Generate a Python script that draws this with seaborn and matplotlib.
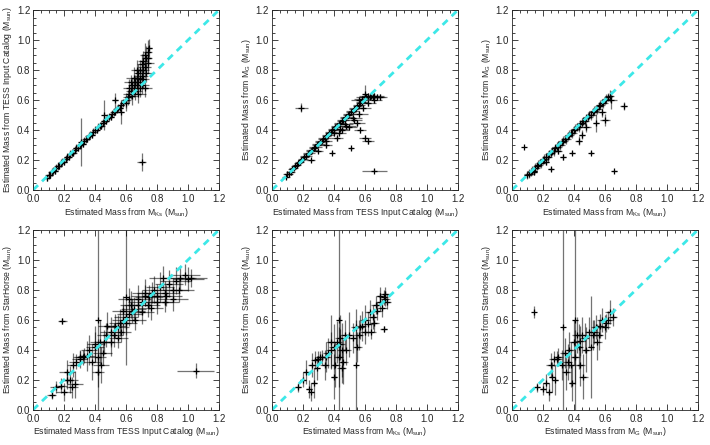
import matplotlib
matplotlib.use("Agg")
import matplotlib.pyplot as plt
import seaborn as sns
from matplotlib.ticker import MultipleLocator

sns.set_theme(style="ticks")
plt.rcParams["font.family"] = ["Liberation Sans", "DejaVu Sans"]
plt.rcParams["mathtext.fontset"] = "custom"
plt.rcParams["mathtext.rm"] = "Liberation Sans"
plt.rcParams["mathtext.it"] = "Liberation Sans"

# --- Données ---

# Panel 1 : M_Ks (x) vs TIC (y)
p1_x = [0.09, 0.10, 0.11, 0.12, 0.13, 0.14, 0.15, 0.16, 0.17, 0.18, 0.19, 0.20, 0.21, 0.22,
        0.23, 0.24, 0.25, 0.26, 0.27, 0.28, 0.29, 0.30, 0.31, 0.32, 0.33, 0.34, 0.35, 0.36,
        0.37, 0.38, 0.39, 0.40, 0.41, 0.42, 0.43, 0.44, 0.45, 0.46, 0.47, 0.48, 0.49, 0.50,
        0.51, 0.52, 0.53, 0.54, 0.55, 0.56, 0.57, 0.58,
        0.60, 0.61, 0.62, 0.63, 0.64, 0.64, 0.65, 0.66, 0.66, 0.67, 0.67, 0.68, 0.68, 0.69,
        0.69, 0.70, 0.70, 0.71, 0.71, 0.72, 0.72, 0.73, 0.73, 0.74, 0.74, 0.75, 0.65, 0.70,
        0.62, 0.57, 0.53, 0.46, 0.31, 0.70, 0.60, 0.72, 0.68, 0.63, 0.67, 0.71, 0.74, 0.69]
p1_y = [0.08, 0.10, 0.10, 0.12, 0.13, 0.13, 0.15, 0.16, 0.16, 0.18, 0.19, 0.19, 0.21, 0.22,
        0.22, 0.24, 0.25, 0.25, 0.27, 0.28, 0.28, 0.30, 0.31, 0.31, 0.33, 0.34, 0.34, 0.36,
        0.37, 0.37, 0.39, 0.40, 0.40, 0.42, 0.43, 0.43, 0.45, 0.46, 0.46, 0.48, 0.49, 0.49,
        0.51, 0.52, 0.52, 0.54, 0.55, 0.55, 0.57, 0.58,
        0.60, 0.62, 0.64, 0.66, 0.63, 0.70, 0.68, 0.72, 0.66, 0.75, 0.70, 0.78, 0.72, 0.80,
        0.74, 0.84, 0.76, 0.86, 0.80, 0.90, 0.82, 0.88, 0.78, 0.92, 0.85, 0.95, 0.75, 0.70,
        0.68, 0.52, 0.60, 0.50, 0.32, 0.19, 0.58, 0.68, 0.64, 0.72, 0.80, 0.74, 0.88, 0.68]
p1_xerr = [0.018, 0.022, 0.018, 0.022, 0.018, 0.022, 0.018, 0.022, 0.018, 0.022,
           0.018, 0.022, 0.018, 0.022, 0.018, 0.022, 0.018, 0.022, 0.018, 0.022, 0.018, 0.022,
           0.018, 0.022, 0.018, 0.022, 0.018, 0.022, 0.018, 0.022, 0.018, 0.022, 0.018, 0.022,
           0.018, 0.022, 0.018, 0.022, 0.018, 0.022, 0.018, 0.022, 0.018, 0.022, 0.018, 0.022,
           0.018, 0.022, 0.018, 0.022,
           0.03, 0.03, 0.04, 0.03, 0.04, 0.03, 0.04, 0.03, 0.04, 0.03, 0.04, 0.03, 0.04, 0.03,
           0.04, 0.03, 0.04, 0.03, 0.04, 0.03, 0.04, 0.03, 0.04, 0.03, 0.04, 0.02, 0.05, 0.05,
           0.04, 0.02, 0.02, 0.01, 0.01, 0.03, 0.02, 0.05, 0.05, 0.04, 0.04, 0.04, 0.03, 0.05]
p1_yerr = [0.022, 0.026, 0.022, 0.026, 0.022, 0.026, 0.022, 0.026, 0.022, 0.026,
           0.022, 0.026, 0.022, 0.026, 0.022, 0.026, 0.022, 0.026, 0.022, 0.026, 0.022, 0.026,
           0.022, 0.026, 0.022, 0.026, 0.022, 0.026, 0.022, 0.026, 0.022, 0.026, 0.022, 0.026,
           0.022, 0.026, 0.022, 0.026, 0.022, 0.026, 0.022, 0.026, 0.022, 0.026, 0.022, 0.026,
           0.022, 0.026, 0.022, 0.026,
           0.05, 0.05, 0.06, 0.05, 0.06, 0.05, 0.06, 0.05, 0.06, 0.05, 0.06, 0.06, 0.06, 0.07,
           0.06, 0.07, 0.06, 0.07, 0.06, 0.08, 0.07, 0.08, 0.06, 0.08, 0.07, 0.06, 0.07, 0.06,
           0.06, 0.08, 0.05, 0.10, 0.16, 0.06, 0.05, 0.06, 0.06, 0.05, 0.07, 0.06, 0.08, 0.06]

# Panel 2 : TIC (x) vs M_G (y)
p2_x = [0.09, 0.10, 0.11, 0.12, 0.13, 0.14, 0.15, 0.16, 0.17, 0.18, 0.19, 0.20, 0.21, 0.22,
        0.23, 0.24, 0.25, 0.26, 0.27, 0.28, 0.29, 0.30, 0.31, 0.32, 0.33, 0.34, 0.35, 0.36,
        0.37, 0.38, 0.39, 0.40, 0.41, 0.42, 0.43, 0.44, 0.45, 0.46, 0.47, 0.48, 0.49, 0.50,
        0.51, 0.52, 0.53, 0.54, 0.55, 0.56, 0.57, 0.58,
        0.56, 0.58, 0.60, 0.61, 0.62, 0.63, 0.64, 0.65, 0.66, 0.68, 0.70, 0.60,
        0.35, 0.42, 0.45, 0.50, 0.55, 0.57, 0.60, 0.62, 0.39, 0.51, 0.19, 0.66, 0.30, 0.25,
        0.47, 0.53, 0.40, 0.44, 0.48, 0.52, 0.56, 0.59, 0.62, 0.66, 0.35, 0.43]
p2_y = [0.09, 0.11, 0.11, 0.12, 0.14, 0.15, 0.16, 0.17, 0.18, 0.19, 0.20, 0.21, 0.22, 0.23,
        0.24, 0.25, 0.26, 0.27, 0.28, 0.29, 0.30, 0.31, 0.32, 0.33, 0.34, 0.35, 0.36, 0.37,
        0.38, 0.39, 0.40, 0.41, 0.42, 0.43, 0.44, 0.45, 0.46, 0.47, 0.48, 0.49, 0.50, 0.51,
        0.52, 0.53, 0.54, 0.55, 0.56, 0.57, 0.58, 0.59,
        0.60, 0.61, 0.62, 0.62, 0.63, 0.62, 0.63, 0.62, 0.63, 0.62, 0.62, 0.64,
        0.30, 0.35, 0.40, 0.42, 0.45, 0.40, 0.35, 0.33, 0.25, 0.28, 0.55, 0.13, 0.26, 0.20,
        0.44, 0.47, 0.38, 0.41, 0.43, 0.48, 0.51, 0.55, 0.58, 0.60, 0.33, 0.38]
p2_xerr = [0.025, 0.03, 0.025, 0.03, 0.025, 0.03, 0.025, 0.03, 0.025, 0.03, 0.025, 0.03,
           0.03, 0.04, 0.03, 0.04, 0.03, 0.04, 0.03, 0.04, 0.03, 0.04, 0.03, 0.04, 0.03, 0.04,
           0.03, 0.04, 0.03, 0.04, 0.03, 0.04, 0.03, 0.04, 0.03, 0.04, 0.03, 0.04, 0.03, 0.04,
           0.03, 0.04, 0.03, 0.04, 0.03, 0.04, 0.03, 0.04, 0.03, 0.04,
           0.05, 0.05, 0.06, 0.05, 0.06, 0.05, 0.06, 0.05, 0.06, 0.05, 0.04, 0.01,
           0.04, 0.04, 0.05, 0.05, 0.05, 0.04, 0.04, 0.04, 0.01, 0.01, 0.04, 0.08, 0.03, 0.03,
           0.05, 0.05, 0.04, 0.05, 0.06, 0.06, 0.06, 0.05, 0.05, 0.05, 0.04, 0.05]
p2_yerr = [0.015, 0.018, 0.015, 0.018, 0.015, 0.018, 0.015, 0.018, 0.015, 0.018,
           0.015, 0.018, 0.015, 0.018, 0.015, 0.018, 0.015, 0.018, 0.015, 0.018, 0.015, 0.018,
           0.015, 0.018, 0.015, 0.018, 0.015, 0.018, 0.015, 0.018, 0.015, 0.018, 0.015, 0.018,
           0.015, 0.018, 0.015, 0.018, 0.015, 0.018, 0.015, 0.018, 0.015, 0.018, 0.015, 0.018,
           0.015, 0.018, 0.015, 0.018,
           0.02, 0.02, 0.02, 0.02, 0.02, 0.02, 0.02, 0.02, 0.02, 0.02, 0.02, 0.06,
           0.02, 0.02, 0.02, 0.02, 0.02, 0.02, 0.02, 0.02, 0.01, 0.01, 0.03, 0.01, 0.01, 0.01,
           0.02, 0.02, 0.02, 0.02, 0.02, 0.02, 0.02, 0.02, 0.02, 0.02, 0.02, 0.02]

# Panel 3 : M_Ks (x) vs M_G (y)
p3_x = [0.10, 0.11, 0.12, 0.13, 0.14, 0.15, 0.16, 0.17, 0.18, 0.19, 0.20, 0.21, 0.22, 0.23,
        0.24, 0.25, 0.26, 0.27, 0.28, 0.29, 0.30, 0.31, 0.32, 0.33, 0.34, 0.35, 0.36, 0.37,
        0.38, 0.39, 0.40, 0.41, 0.42, 0.43, 0.44, 0.45, 0.46, 0.47, 0.48, 0.49, 0.50, 0.51,
        0.52, 0.53, 0.54, 0.55, 0.56, 0.57, 0.58, 0.59, 0.60, 0.61, 0.62, 0.63,
        0.72, 0.66, 0.51, 0.39, 0.25, 0.54, 0.60, 0.43, 0.45, 0.33, 0.08, 0.58, 0.64, 0.48,
        0.30, 0.22, 0.14]
p3_y = [0.10, 0.11, 0.12, 0.13, 0.13, 0.15, 0.16, 0.17, 0.18, 0.18, 0.20, 0.21, 0.22, 0.22,
        0.24, 0.25, 0.26, 0.26, 0.28, 0.29, 0.30, 0.30, 0.32, 0.33, 0.34, 0.34, 0.36, 0.37,
        0.38, 0.38, 0.40, 0.41, 0.42, 0.42, 0.44, 0.45, 0.46, 0.46, 0.48, 0.49, 0.50, 0.50,
        0.52, 0.53, 0.54, 0.54, 0.56, 0.57, 0.58, 0.58, 0.60, 0.61, 0.62, 0.63,
        0.56, 0.13, 0.25, 0.25, 0.14, 0.45, 0.47, 0.33, 0.37, 0.22, 0.29, 0.52, 0.60, 0.42,
        0.26, 0.19, 0.12]
p3_xerr = [0.025, 0.03, 0.025, 0.03, 0.025, 0.03, 0.025, 0.03, 0.025, 0.03, 0.025, 0.03,
           0.025, 0.03, 0.025, 0.03, 0.025, 0.03, 0.025, 0.03, 0.025, 0.03, 0.025, 0.03,
           0.025, 0.03, 0.025, 0.03, 0.025, 0.03, 0.025, 0.03, 0.025, 0.03, 0.025, 0.03,
           0.025, 0.03, 0.025, 0.03, 0.025, 0.03, 0.025, 0.03, 0.025, 0.03, 0.025, 0.03,
           0.025, 0.03, 0.025, 0.03, 0.025, 0.03,
           0.025, 0.015, 0.01, 0.015, 0.015, 0.02, 0.03, 0.02, 0.02, 0.02, 0.005, 0.03, 0.04,
           0.03, 0.02, 0.02, 0.02]
p3_yerr = [0.025, 0.03, 0.025, 0.03, 0.025, 0.03, 0.025, 0.03, 0.025, 0.03, 0.025, 0.03,
           0.025, 0.03, 0.025, 0.03, 0.025, 0.03, 0.025, 0.03, 0.025, 0.03, 0.025, 0.03,
           0.025, 0.03, 0.025, 0.03, 0.025, 0.03, 0.025, 0.03, 0.025, 0.03, 0.025, 0.03,
           0.025, 0.03, 0.025, 0.03, 0.025, 0.03, 0.025, 0.03, 0.025, 0.03, 0.025, 0.03,
           0.025, 0.03, 0.025, 0.03, 0.025, 0.04,
           0.025, 0.005, 0.01, 0.01, 0.015, 0.06, 0.04, 0.03, 0.03, 0.02, 0.005, 0.03, 0.06,
           0.03, 0.02, 0.02, 0.02]

# Panel 4 : TIC (x) vs StarHorse (y)
p4_x = [0.12, 0.15, 0.18, 0.20, 0.22, 0.22, 0.25, 0.27, 0.28, 0.30, 0.32, 0.26, 0.24,
        0.36, 0.38, 0.40, 0.42, 0.43, 0.44, 0.42, 0.45, 0.47, 0.50, 0.52, 0.55, 0.57, 0.58,
        0.60, 0.55, 0.62, 0.63, 0.65, 0.68, 0.70, 0.72, 0.75, 0.78, 0.80, 0.66, 0.70, 0.74,
        0.62, 0.82, 0.85, 0.88, 0.90, 0.92, 0.95, 0.98, 1.00, 1.02, 0.85, 0.90, 0.84,
        0.19, 1.05, 0.42, 0.60, 0.35, 0.48, 0.76, 0.58, 0.30, 0.33, 0.40, 0.46, 0.53,
        0.60, 0.64, 0.68, 0.72, 0.77, 0.80, 0.86, 0.94, 0.56, 0.50]
p4_y = [0.10, 0.15, 0.16, 0.12, 0.20, 0.25, 0.15, 0.17, 0.32, 0.34, 0.35, 0.30, 0.20,
        0.40, 0.32, 0.42, 0.35, 0.45, 0.30, 0.25, 0.38, 0.50, 0.45, 0.50, 0.55, 0.52, 0.60,
        0.58, 0.48, 0.64, 0.70, 0.67, 0.74, 0.72, 0.78, 0.75, 0.80, 0.76, 0.60, 0.65, 0.70,
        0.74, 0.82, 0.78, 0.84, 0.80, 0.86, 0.88, 0.90, 0.87, 0.88, 0.72, 0.74, 0.88,
        0.59, 0.26, 0.60, 0.75, 0.36, 0.56, 0.68, 0.66, 0.35, 0.36, 0.44, 0.45, 0.56,
        0.62, 0.66, 0.70, 0.76, 0.78, 0.72, 0.76, 0.80, 0.58, 0.52]
p4_xerr = [0.03, 0.04, 0.04, 0.05, 0.04, 0.05, 0.04, 0.05, 0.05, 0.05, 0.05, 0.04, 0.05,
           0.05, 0.05, 0.06, 0.05, 0.06, 0.05, 0.04, 0.06, 0.06, 0.07, 0.06, 0.07, 0.06, 0.07,
           0.07, 0.06, 0.08, 0.07, 0.08, 0.08, 0.09, 0.08, 0.09, 0.08, 0.09, 0.07, 0.08, 0.08,
           0.07, 0.09, 0.10, 0.09, 0.10, 0.10, 0.10, 0.10, 0.10, 0.10, 0.09, 0.10, 0.09,
           0.03, 0.12, 0.00, 0.00, 0.05, 0.06, 0.08, 0.07, 0.04, 0.04, 0.05, 0.06, 0.07,
           0.08, 0.08, 0.09, 0.09, 0.10, 0.10, 0.10, 0.10, 0.07, 0.07]
p4_yerr = [0.03, 0.04, 0.05, 0.06, 0.06, 0.08, 0.07, 0.09, 0.05, 0.06, 0.05, 0.08, 0.09,
           0.10, 0.12, 0.10, 0.12, 0.15, 0.12, 0.10, 0.08, 0.08, 0.09, 0.08, 0.08, 0.07, 0.10,
           0.08, 0.07, 0.08, 0.09, 0.08, 0.09, 0.08, 0.09, 0.08, 0.09, 0.08, 0.07, 0.08, 0.08,
           0.07, 0.10, 0.08, 0.09, 0.08, 0.09, 0.08, 0.07, 0.08, 0.06, 0.07, 0.08, 0.08,
           0.02, 0.05, 0.60, 0.45, 0.10, 0.09, 0.08, 0.10, 0.04, 0.05, 0.12, 0.08, 0.08,
           0.08, 0.08, 0.08, 0.07, 0.07, 0.08, 0.07, 0.08, 0.09, 0.10]

# Panel 5 : M_Ks (x) vs StarHorse (y)
p5_x = [0.17, 0.20, 0.22, 0.24, 0.26, 0.27, 0.28, 0.30, 0.32, 0.34, 0.36, 0.38, 0.40,
        0.41, 0.42, 0.43, 0.44, 0.45, 0.46, 0.47, 0.50, 0.52, 0.54, 0.56, 0.58, 0.60, 0.62,
        0.63, 0.65, 0.67, 0.70, 0.72, 0.73, 0.74, 0.71, 0.68, 0.72, 0.64, 0.55, 0.43, 0.54,
        0.40, 0.38, 0.45, 0.48, 0.29, 0.25, 0.35, 0.60, 0.66, 0.70, 0.31, 0.44, 0.57, 0.73]
p5_y = [0.15, 0.20, 0.25, 0.14, 0.30, 0.18, 0.33, 0.34, 0.35, 0.30, 0.38, 0.40, 0.42,
        0.30, 0.45, 0.35, 0.48, 0.40, 0.32, 0.50, 0.50, 0.48, 0.55, 0.50, 0.56, 0.60, 0.57,
        0.65, 0.62, 0.70, 0.72, 0.75, 0.77, 0.72, 0.68, 0.66, 0.54, 0.52, 0.42, 0.60, 0.30,
        0.22, 0.45, 0.28, 0.40, 0.28, 0.12, 0.35, 0.52, 0.58, 0.76, 0.35, 0.44, 0.55, 0.74]
p5_xerr = [0.02, 0.02, 0.02, 0.02, 0.03, 0.02, 0.03, 0.03, 0.03, 0.03, 0.03, 0.03, 0.03,
           0.03, 0.03, 0.03, 0.03, 0.03, 0.03, 0.03, 0.03, 0.03, 0.03, 0.03, 0.03, 0.03, 0.03,
           0.03, 0.03, 0.03, 0.03, 0.03, 0.03, 0.03, 0.03, 0.03, 0.02, 0.03, 0.03, 0.00, 0.00,
           0.02, 0.03, 0.03, 0.03, 0.02, 0.02, 0.03, 0.03, 0.03, 0.03, 0.03, 0.03, 0.03, 0.03]
p5_yerr = [0.03, 0.05, 0.08, 0.06, 0.08, 0.10, 0.06, 0.05, 0.05, 0.10, 0.10, 0.12, 0.15,
           0.15, 0.14, 0.20, 0.15, 0.18, 0.15, 0.10, 0.15, 0.10, 0.12, 0.10, 0.10, 0.10, 0.08,
           0.08, 0.08, 0.06, 0.06, 0.05, 0.05, 0.05, 0.06, 0.06, 0.02, 0.05, 0.10, 0.60, 0.30,
           0.15, 0.18, 0.10, 0.10, 0.08, 0.06, 0.10, 0.08, 0.06, 0.06, 0.04, 0.10, 0.08, 0.05]

# Panel 6 : M_G (x) vs StarHorse (y)
p6_x = [0.16, 0.20, 0.22, 0.24, 0.25, 0.27, 0.28, 0.30, 0.32, 0.34, 0.35, 0.37, 0.38,
        0.40, 0.41, 0.42, 0.43, 0.44, 0.45, 0.47, 0.48, 0.50, 0.52, 0.54, 0.55, 0.57, 0.58,
        0.60, 0.62, 0.63, 0.65, 0.14, 0.33, 0.41, 0.26, 0.36, 0.46, 0.56, 0.39, 0.51,
        0.29, 0.44, 0.53, 0.61]
p6_y = [0.15, 0.14, 0.18, 0.12, 0.30, 0.34, 0.20, 0.35, 0.30, 0.38, 0.25, 0.40, 0.30,
        0.45, 0.35, 0.50, 0.42, 0.30, 0.50, 0.48, 0.40, 0.52, 0.50, 0.55, 0.45, 0.56, 0.60,
        0.55, 0.60, 0.65, 0.62, 0.65, 0.55, 0.60, 0.22, 0.32, 0.22, 0.50, 0.18, 0.42,
        0.34, 0.46, 0.52, 0.58]
p6_xerr = [0.02, 0.02, 0.02, 0.02, 0.03, 0.03, 0.02, 0.03, 0.03, 0.03, 0.03, 0.03, 0.03,
           0.03, 0.03, 0.03, 0.03, 0.03, 0.03, 0.03, 0.03, 0.03, 0.03, 0.03, 0.03, 0.03, 0.03,
           0.03, 0.03, 0.03, 0.03, 0.00, 0.00, 0.00, 0.02, 0.03, 0.03, 0.03, 0.02, 0.02,
           0.03, 0.03, 0.03, 0.03]
p6_yerr = [0.03, 0.04, 0.06, 0.06, 0.08, 0.05, 0.10, 0.06, 0.10, 0.10, 0.12, 0.12, 0.15,
           0.15, 0.18, 0.12, 0.15, 0.14, 0.12, 0.10, 0.15, 0.10, 0.10, 0.08, 0.12, 0.08, 0.08,
           0.08, 0.06, 0.08, 0.06, 0.04, 0.65, 0.60, 0.10, 0.12, 0.15, 0.10, 0.12, 0.34,
           0.05, 0.10, 0.08, 0.06]

xlab_ks = r"Estimated Mass from M$_{\rm Ks}$ (M$_{\rm sun}$)"
xlab_tic = r"Estimated Mass from TESS Input Catalog (M$_{\rm sun}$)"
xlab_g = r"Estimated Mass from M$_{\rm G}$ (M$_{\rm sun}$)"
ylab_tic = r"Estimated Mass from TESS Input Catalog (M$_{\rm sun}$)"
ylab_g = r"Estimated Mass from M$_{\rm G}$ (M$_{\rm sun}$)"
ylab_sh = r"Estimated Mass from StarHorse (M$_{\rm sun}$)"

PANELS = [
    (p1_x, p1_y, p1_xerr, p1_yerr, xlab_ks, ylab_tic),
    (p2_x, p2_y, p2_xerr, p2_yerr, xlab_tic, ylab_g),
    (p3_x, p3_y, p3_xerr, p3_yerr, xlab_ks, ylab_g),
    (p4_x, p4_y, p4_xerr, p4_yerr, xlab_tic, ylab_sh),
    (p5_x, p5_y, p5_xerr, p5_yerr, xlab_ks, ylab_sh),
    (p6_x, p6_y, p6_xerr, p6_yerr, xlab_g, ylab_sh),
]

# positions des axes (fractions de figure)
LEFTS = [0.0465, 0.383, 0.721]
BOTTOMS = [0.573, 0.079]
W, H = 0.262, 0.4045


def draw_panel(ax, x, y, xerr, yerr, xlabel, ylabel):
    ax.errorbar(x, y, xerr=xerr, yerr=yerr, fmt="none", ecolor="black",
                elinewidth=0.9, alpha=0.55, capsize=0)
    sns.scatterplot(x=x, y=y, ax=ax, marker="+", color="black", s=25, linewidth=0.9)
    sns.lineplot(x=[0.0, 1.2], y=[0.0, 1.2], ax=ax, color="#3de8e8", linewidth=2.0,
                 linestyle=(0, (2.5, 2)))
    ax.set_xlim(0, 1.2)
    ax.set_ylim(0, 1.2)
    ax.xaxis.set_major_locator(MultipleLocator(0.2))
    ax.yaxis.set_major_locator(MultipleLocator(0.2))
    ax.xaxis.set_minor_locator(MultipleLocator(0.05))
    ax.yaxis.set_minor_locator(MultipleLocator(0.05))
    ax.tick_params(which="both", direction="in", top=True, right=True, labelsize=7,
                   width=0.6)
    ax.tick_params(axis="x", pad=3)
    ax.tick_params(axis="y", pad=2)
    ax.tick_params(which="major", length=4)
    ax.tick_params(which="minor", length=2)
    for sp in ax.spines.values():
        sp.set_linewidth(0.6)
    ax.set_xlabel(xlabel, fontsize=6.2, labelpad=1)
    ax.set_ylabel(ylabel, fontsize=6.2, labelpad=2)


def main():
    fig = plt.figure(figsize=(7.1, 4.45), dpi=100)
    for i, (x, y, xe, ye, xl, yl) in enumerate(PANELS):
        row, col = divmod(i, 3)
        ax = fig.add_axes([LEFTS[col], BOTTOMS[row], W, H])
        draw_panel(ax, x, y, xe, ye, xl, yl)
    fig.savefig("out.png", dpi=100)


if __name__ == "__main__":
    main()
